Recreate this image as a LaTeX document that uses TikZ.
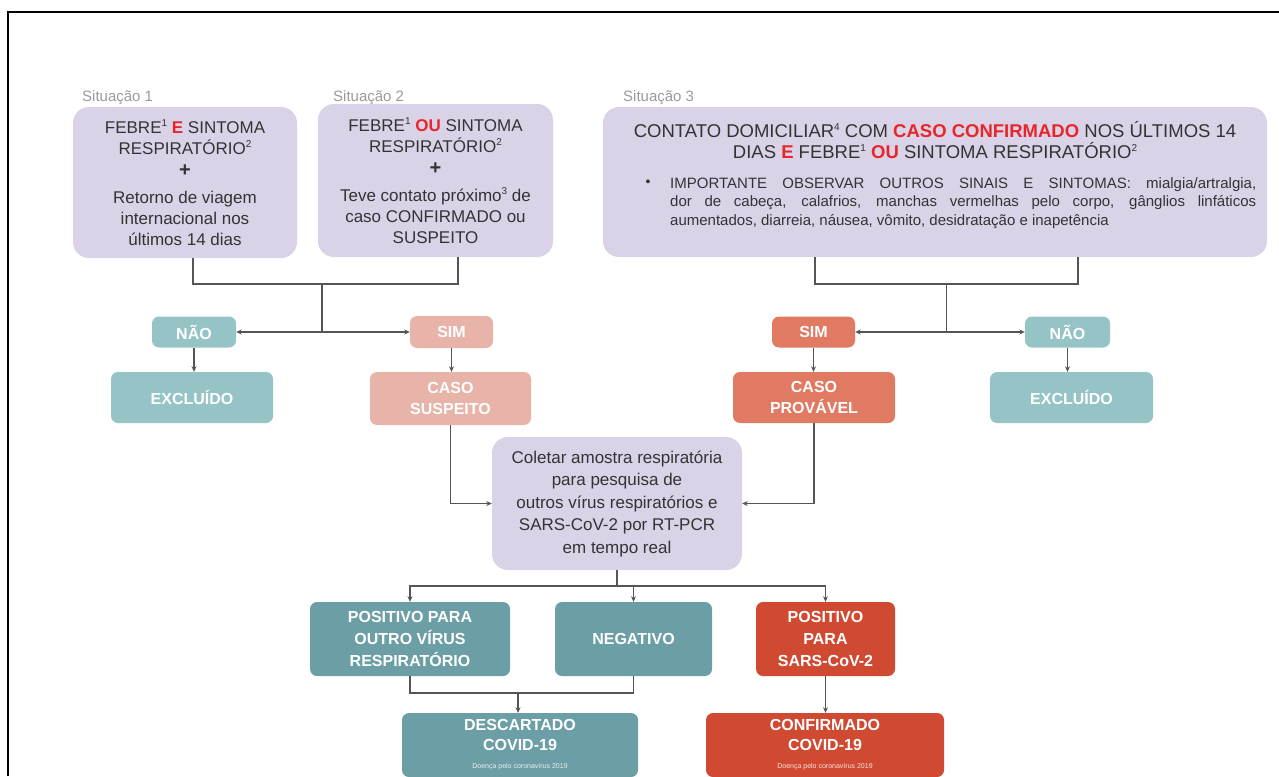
\documentclass[tikz,border=0pt]{standalone}
\usepackage{fontspec}
\setmainfont{Liberation Sans}
\usetikzlibrary{arrows.meta}
\definecolor{lav}{HTML}{DAD3E8}
\definecolor{tealL}{HTML}{96C3C6}
\definecolor{salL}{HTML}{E8B3A8}
\definecolor{coral}{HTML}{E07A62}
\definecolor{tealD}{HTML}{6C9EA5}
\definecolor{redD}{HTML}{D04A32}
\definecolor{redT}{HTML}{E8252B}
\definecolor{txt}{HTML}{333333}
\definecolor{sit}{HTML}{9A9A9A}
\definecolor{ln}{HTML}{555555}
\newcommand\supr[1]{\raisebox{.38em}{\fontsize{10}{10}\selectfont #1}}
\begin{document}
\begin{tikzpicture}[x=1pt,y=-1pt,
  lavbox/.style={fill=lav, rounded corners=16pt, text=txt, align=center, inner sep=0pt,
    font=\fontsize{17}{21}\selectfont},
  cbox/.style={rounded corners=7pt, text=white, align=center, inner sep=0pt,
    font=\bfseries\fontsize{16}{21}\selectfont},
  sitlab/.style={anchor=west, text=sit, inner sep=0pt, font=\fontsize{15}{18}\selectfont},
  conn/.style={draw=ln, line width=1.1pt},
  arr/.style={conn, -{Stealth[length=5.5pt,width=5pt]}},
]
\useasboundingbox (0,0) rectangle (1279,776);
\draw[line width=2pt] (8,776) -- (8,12) -- (1279,12);

% situation labels
\node[sitlab] (s1) at (82,98) {Situação 1};
\node[sitlab] (s2) at (333,98) {Situação 2};
\node[sitlab] (s3) at (623,98) {Situação 3};

% top boxes
\node[lavbox, minimum width=224pt, minimum height=151pt] (b1) at (185,182.5)
 {FEBRE\supr{1}\textcolor{redT}{\textbf{ E}} SINTOMA\\RESPIRATÓRIO\supr{2}\\[1pt]
  {\bfseries\fontsize{20}{21}\selectfont +}\\[6pt]
  Retorno de viagem\\internacional nos\\últimos 14 dias};
\node[lavbox, minimum width=235pt, minimum height=153pt] (b2) at (435.5,180.5)
 {FEBRE\supr{1} \textcolor{redT}{\textbf{OU}} SINTOMA\\RESPIRATÓRIO\supr{2}\\[1pt]
  {\bfseries\fontsize{20}{21}\selectfont +}\\[6pt]
  Teve contato próximo\supr{3} de\\caso CONFIRMADO ou\\SUSPEITO};
\node[lavbox, minimum width=664pt, minimum height=150pt] (b3) at (935,182) {};
\node[text=txt, align=center, inner sep=0pt, font=\fontsize{18.5}{21.5}\selectfont] (t3a) at (935,140)
 {CONTATO DOMICILIAR\supr{4} COM \textcolor{redT}{\textbf{CASO CONFIRMADO}} NOS ÚLTIMOS 14\\
  DIAS \textcolor{redT}{\textbf{E}} FEBRE\supr{1} \textcolor{redT}{\textbf{OU}} SINTOMA RESPIRATÓRIO\supr{2}};
\node[text=txt, inner sep=0pt, font=\fontsize{14}{18.5}\selectfont] (bul) at (648,183) {•};
\node[text=txt, inner sep=0pt, anchor=north west, text width=586pt, align=justify,
  font=\fontsize{15}{18.5}\selectfont] (t3b) at (670,177)
 {IMPORTANTE OBSERVAR OUTROS SINAIS E SINTOMAS: mialgia/artralgia,\linebreak
  dor de cabeça, calafrios, manchas vermelhas pelo corpo, gânglios linfáticos\linebreak
  aumentados, diarreia, náusea, vômito, desidratação e inapetência};

% decision boxes
\node[cbox, fill=tealL, minimum width=84pt, minimum height=31pt] (nao1) at (194,332) {NÃO};
\node[cbox, fill=tealL, minimum width=162pt, minimum height=51pt] (exc1) at (192,397.5) {EXCLUÍDO};
\node[cbox, fill=salL, minimum width=83pt, minimum height=32pt] (sim1) at (451.5,332) {SIM};
\node[cbox, fill=salL, minimum width=161pt, minimum height=53pt] (susp) at (450.5,398.5) {CASO\\SUSPEITO};
\node[cbox, fill=coral, minimum width=83pt, minimum height=31pt] (sim2) at (813.5,332) {SIM};
\node[cbox, fill=coral, minimum width=162pt, minimum height=51pt] (prov) at (814,397.5) {CASO\\PROVÁVEL};
\node[cbox, fill=tealL, minimum width=85pt, minimum height=31pt] (nao2) at (1067.5,332) {NÃO};
\node[cbox, fill=tealL, minimum width=163pt, minimum height=51pt] (exc2) at (1071.5,397.5) {EXCLUÍDO};

% collect box
\node[lavbox, minimum width=250pt, minimum height=133pt, font=\fontsize{17}{22.5}\selectfont] (col) at (617,503.5)
 {Coletar amostra respiratória\\para pesquisa de\\outros vírus respiratórios e\\SARS-CoV-2 por RT-PCR\\em tempo real};

% results
\node[cbox, fill=tealD, minimum width=200pt, minimum height=74pt, font=\bfseries\fontsize{16}{22}\selectfont] (pos1) at (410,639)
 {POSITIVO PARA\\OUTRO VÍRUS\\RESPIRATÓRIO};
\node[cbox, fill=tealD, minimum width=157pt, minimum height=74pt] (neg) at (633.5,639) {NEGATIVO};
\node[cbox, fill=redD, minimum width=139pt, minimum height=74pt, font=\bfseries\fontsize{16}{22}\selectfont] (pos2) at (825.5,639)
 {POSITIVO\\PARA\\SARS-CoV-2};
\node[cbox, fill=tealD, minimum width=236pt, minimum height=64pt, font=\bfseries\fontsize{16}{20}\selectfont] (desc) at (520,745)
 {DESCARTADO\\COVID-19\\[-2pt]{\fontsize{7}{8}\selectfont\mdseries\color{white!85!tealD}Doença pelo coronavírus 2019}};
\node[cbox, fill=redD, minimum width=238pt, minimum height=64pt, font=\bfseries\fontsize{16}{20}\selectfont] (conf) at (825,745)
 {CONFIRMADO\\COVID-19\\[-2pt]{\fontsize{7}{8}\selectfont\mdseries\color{white!85!redD}Doença pelo coronavírus 2019}};

% connectors: left
\coordinate (j1) at (322,284);
\coordinate (k1) at (322,332);
\draw[conn] ([xshift=8pt]b1.south) |- (j1) -| ([xshift=22.5pt]b2.south);
\draw[conn] (j1) -- (k1);
\draw[arr] (k1) -- (nao1.east);
\draw[arr] (k1) -- (sim1.west);
\draw[arr] (nao1.south) -- (nao1.south |- exc1.north);
\draw[arr] (sim1.south) -- (sim1.south |- susp.north);

% connectors: right
\coordinate (j2) at (946.5,284);
\coordinate (k2) at (946.5,332);
\draw[conn] ([xshift=-120pt]b3.south) |- (j2) -| ([xshift=143pt]b3.south);
\draw[conn] (j2) -- (k2);
\draw[arr] (k2) -- (sim2.east);
\draw[arr] (k2) -- (nao2.west);
\draw[arr] (sim2.south) -- (sim2.south |- prov.north);
\draw[arr] (nao2.south) -- (nao2.south |- exc2.north);

% to collect box
\draw[arr] (susp.south) |- (col.west);
\draw[arr] (prov.south) |- (col.east);

% results
\coordinate (j3) at (617,586);
\draw[conn] (col.south) -- (j3);
\draw[arr] (j3) -| (pos1.north);
\draw[arr] (j3) -| (neg.north);
\draw[arr] (j3) -| (pos2.north);
\coordinate (j4) at (518,693);
\draw[conn] (pos1.south) |- (j4) -| (neg.south);
\draw[arr] (j4) -- (j4 |- desc.north);
\draw[arr] (pos2.south) -- (pos2.south |- conf.north);
\end{tikzpicture}
\end{document}
